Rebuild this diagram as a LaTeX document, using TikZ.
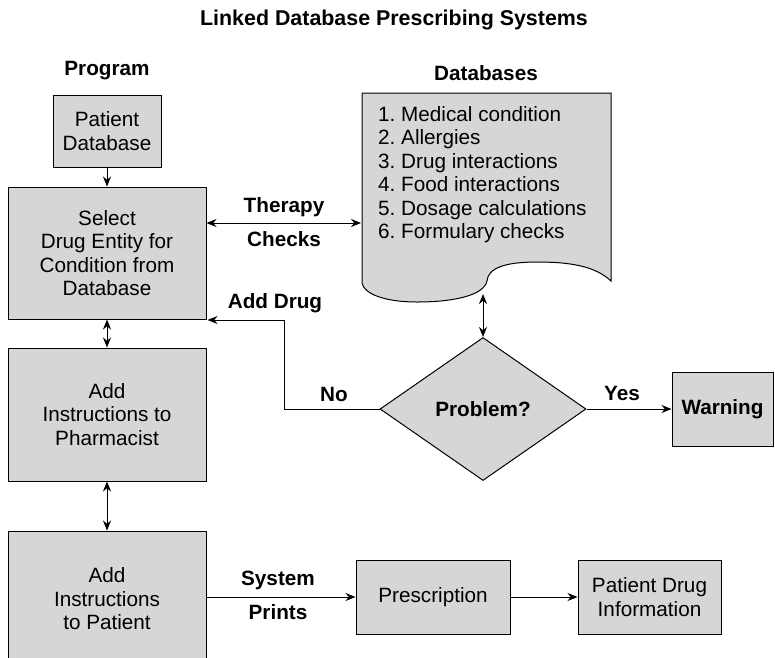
\documentclass[tikz,border=0pt]{standalone}
\usepackage{fontspec}
\setmainfont{Liberation Sans}
\usetikzlibrary{arrows.meta,shapes.geometric}
\definecolor{boxgray}{RGB}{214,214,214}
\frenchspacing
\begin{document}
\begin{tikzpicture}[x=1pt,y=-1pt,
  every node/.style={font=\fontsize{20.7}{23.5}\selectfont},
  box/.style={draw=black,fill=boxgray,line width=1pt,align=center,inner sep=0pt},
  lbl/.style={font=\fontsize{20.7}{23.5}\selectfont\bfseries,inner sep=0pt},
  conn/.style={line width=1pt,-{Stealth[length=10pt,width=8pt]}},
  dconn/.style={line width=1pt,{Stealth[length=10pt,width=8pt]}-{Stealth[length=10pt,width=8pt]}}]
\useasboundingbox (0,0) rectangle (775,657);
\clip (0,0) rectangle (775,657);
% titles
\node[lbl,font=\fontsize{21.4}{24}\selectfont\bfseries] (title) at (394,20) {Linked Database Prescribing Systems};
\node[lbl] (prog) at (107,71) {Program};
\node[lbl] (dbs) at (486,73) {Databases};
% left column
\node[box,minimum width=108pt,minimum height=72pt] (pd) at (107,131) {Patient\\Database};
\node[box,minimum width=198pt,minimum height=132pt] (sel) at (107,253) {Select\\Drug Entity for\\Condition from\\Database};
\node[box,minimum width=198pt,minimum height=133pt] (pharm) at (107,414.5) {Add\\Instructions to\\Pharmacist};
\node[box,minimum width=198pt,minimum height=136pt] (pat) at (107,599) {Add\\Instructions\\to Patient};
% bottom row
\node[box,minimum width=154pt,minimum height=74pt] (presc) at (433,597) {Prescription};
\node[box,minimum width=143pt,minimum height=74pt] (pdi) at (649.5,597) {Patient Drug\\Information};
% database document
\draw[fill=boxgray,line width=1pt] (362,93) -- (611,93) -- (611,281)
  .. controls (595,266) and (570,262) .. (537,262)
  .. controls (505,262) and (488,268) .. (487,281)
  .. controls (484,295) and (455,302) .. (417,302)
  .. controls (385,302) and (364,294) .. (362,283) -- cycle;
\node[anchor=north west,align=left,inner sep=0pt] (db) at (378,106)
  {1. Medical condition\\2. Allergies\\3. Drug interactions\\4. Food interactions\\5. Dosage calculations\\6. Formulary checks};
\coordinate (dbl) at (361,223);
\coordinate (dbb) at (483,294);
% decision
\node[box,shape=diamond,minimum width=206pt,minimum height=143pt,font=\fontsize{20.7}{23.5}\selectfont\bfseries] (dia) at (483,409) {Problem?};
\node[box,minimum width=101pt,minimum height=74pt,font=\fontsize{20.7}{23.5}\selectfont\bfseries] (warn) at (722.5,409) {Warning};
\coordinate (turn) at (284,320);
% connectors
\draw[conn] (pd) -- (sel);
\draw[dconn] (sel.east |- dbl) -- (dbl);
\draw[dconn] (dbb) -- (dia.north);
\draw[conn] (dia.east) -- (warn.west);
\draw[conn] (dia.west) -| (turn) -- ([xshift=1pt]sel.east |- turn);
\draw[dconn] (sel) -- (pharm);
\draw[dconn] (pharm) -- (pat);
\draw[conn] (pat.east |- presc.west) -- (presc.west);
\draw[conn] (presc) -- (pdi);
% labels
\node[lbl] (ther) at (284,207) {Therapy};
\node[lbl] (chk) at (284,239) {Checks};
\node[lbl] (add) at (275,303) {Add Drug};
\node[lbl] (no) at (334,394) {No};
\node[lbl] (yes) at (622,393) {Yes};
\node[lbl] (sys) at (278,580) {System};
\node[lbl] (prn) at (278,612) {Prints};
\end{tikzpicture}
\end{document}
